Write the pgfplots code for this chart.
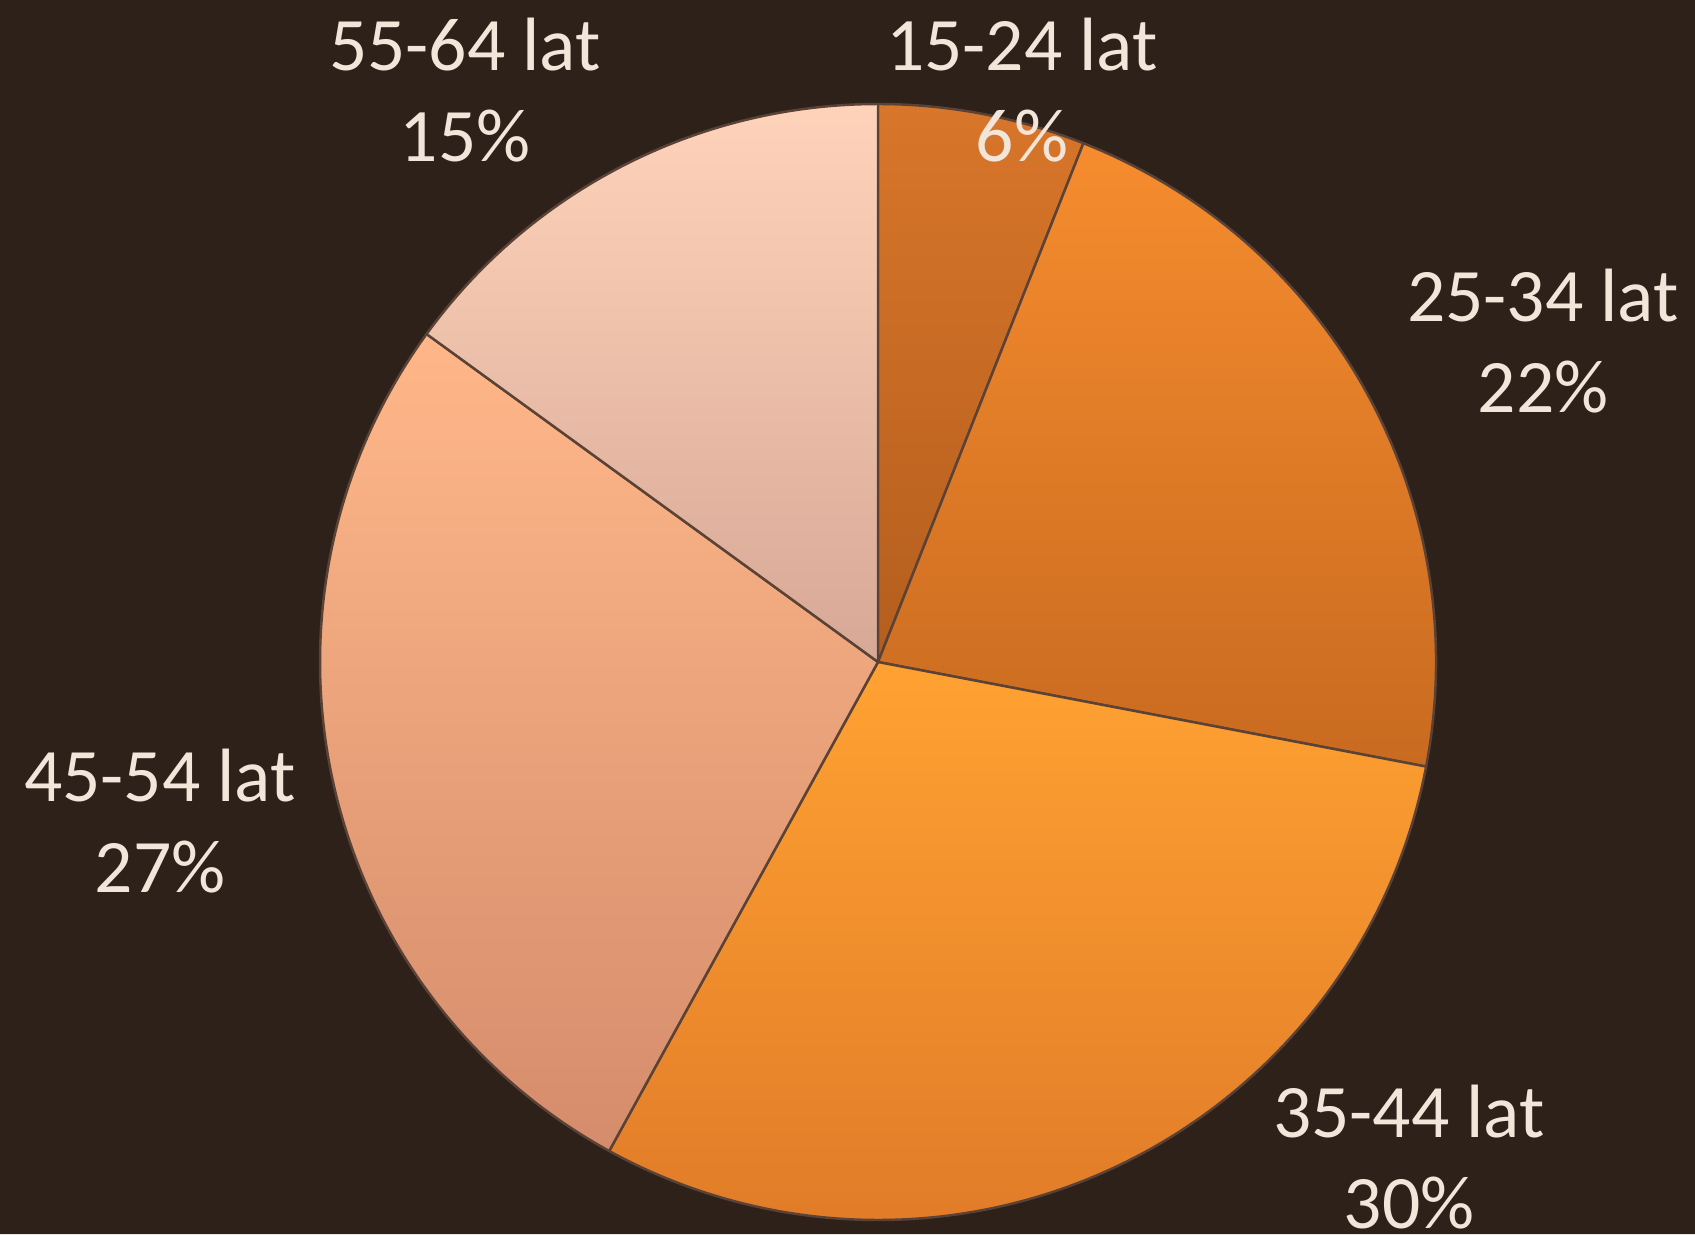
\documentclass[border=0pt]{standalone}
\usepackage{pgfplots}
\pgfplotsset{compat=1.18}
\usepackage{fontspec}
\setmainfont{Carlito}
\definecolor{bg}{HTML}{2E2119}
\definecolor{txt}{HTML}{F2E6DA}
\definecolor{aT}{HTML}{D8762A}\definecolor{aB}{HTML}{B45E1E}
\definecolor{bT}{HTML}{F68C2E}\definecolor{bB}{HTML}{C86A20}
\definecolor{cT}{HTML}{FFA232}\definecolor{cB}{HTML}{E07A28}
\definecolor{dT}{HTML}{FFB789}\definecolor{dB}{HTML}{D48C6C}
\definecolor{eT}{HTML}{FFD3BA}\definecolor{eB}{HTML}{D6A896}
\definecolor{edge}{HTML}{5A4236}
\begin{document}
\begin{tikzpicture}
\begin{axis}[scale only axis, width=16.95cm, height=12.34cm,
  xmin=0, xmax=1695, ymin=0, ymax=1234, hide axis, clip=false]
\addplot[draw=none, fill=bg] coordinates {(0,0) (1695,0) (1695,1234) (0,1234) (0,0)};
\pgfplotsextra{
  \xdef\startang{90}
  % value / top colour / bottom colour
  \foreach \v/\ct/\cb in {6/aT/aB, 22/bT/bB, 30/cT/cB, 27/dT/dB, 15/eT/eB}{
    \pgfmathsetmacro{\endang}{\startang-3.6*\v}
    \path[top color=\ct, bottom color=\cb, draw=edge, line width=0.7pt, line join=round]
      (axis cs:878,572) -- ++(\startang:5.58cm) arc[start angle=\startang, end angle=\endang, radius=5.58cm] -- cycle;
    \xdef\startang{\endang}
  }
}
\begin{scope}[every node/.style={text=txt, font=\fontsize{21.5}{26}\selectfont, align=center}]
\node at (axis cs:1022,1144) {15-24 lat\\6\%};
\node at (axis cs:1543,893) {25-34 lat\\22\%};
\node at (axis cs:1409,077) {35-44 lat\\30\%};
\node at (axis cs:160,413) {45-54 lat\\27\%};
\node at (axis cs:465,1144) {55-64 lat\\15\%};
\end{scope}
\end{axis}
\pgfresetboundingbox
\useasboundingbox (0,0) rectangle (16.95cm,12.34cm);
\end{tikzpicture}
\end{document}
